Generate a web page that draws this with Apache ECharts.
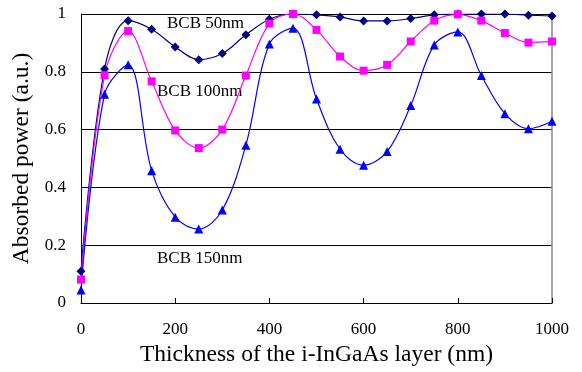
<!DOCTYPE html>
<html>
<head>
<meta charset="utf-8">
<script src="https://cdn.jsdelivr.net/npm/echarts@6/dist/echarts.min.js"></script>
<style>
  html, body { margin: 0; padding: 0; background: #fff; }
  #chart { width: 582px; height: 372px; }
</style>
</head>
<body>
<div id="chart"></div>
<script>
const thickness = [0, 50, 100, 150, 200, 250, 300, 350, 400, 450, 500,
  550, 600, 650, 700, 750, 800, 850, 900, 950, 1000]

const bcb50 = [0.11, 0.81, 0.977, 0.947, 0.886, 0.842, 0.863, 0.928, 0.982, 1.0, 0.997,
  0.99, 0.976, 0.976, 0.984, 0.997, 1.0, 1.0, 1.0, 0.996, 0.993]
const bcb100 = [0.081, 0.788, 0.941, 0.767, 0.597, 0.536, 0.6, 0.787, 0.967, 1.0, 0.945,
  0.853, 0.804, 0.824, 0.905, 0.977, 0.999, 0.977, 0.934, 0.901, 0.905]
const bcb150 = [0.045, 0.722, 0.824, 0.458, 0.297, 0.256, 0.322, 0.546, 0.896, 0.951, 0.706,
  0.532, 0.477, 0.524, 0.683, 0.893, 0.938, 0.787, 0.655, 0.603, 0.629]

const seriesNames = ["BCB 50nm", "BCB 100nm", "BCB 150nm"]

const font = "'Liberation Serif', 'Times New Roman', serif"

function pairs(ys) {
  return thickness.map((x, i) => [x, ys[i]])
}

const chart = echarts.init(document.getElementById("chart"))

const lineSeries = (name, ys, color, symbol, size) => ({
  name,
  type: "line",
  data: pairs(ys),
  smooth: 0.35,
  symbol,
  symbolSize: size,
  lineStyle: { color, width: 1.2 },
  itemStyle: { color },
  z: 3
})

chart.setOption({
  animation: false,
  backgroundColor: "#fff",
  textStyle: { fontFamily: font },
  grid: { left: 81, right: 30, top: 14, bottom: 67.5, containLabel: false },
  xAxis: {
    type: "value",
    min: 0,
    max: 1000,
    interval: 200,
    name: "Thickness of the i-InGaAs layer (nm)",
    nameLocation: "middle",
    nameGap: 40,
    nameTextStyle: { fontFamily: font, fontSize: 23.5, color: "#000" },
    axisLine: { lineStyle: { color: "#000", width: 1 } },
    axisTick: { inside: true, length: 5, lineStyle: { color: "#000" } },
    axisLabel: { fontFamily: font, fontSize: 17, color: "#000", margin: 18, formatter: v => String(v) },
    splitLine: { show: false }
  },
  yAxis: [{
    type: "value",
    min: 0,
    max: 1,
    interval: 0.2,
    name: "Absorbed power (a.u.)",
    nameLocation: "middle",
    nameGap: 47,
    nameTextStyle: { fontFamily: font, fontSize: 23.5, color: "#000" },
    axisLine: { show: true, lineStyle: { color: "#000", width: 1 } },
    axisTick: { show: false },
    axisLabel: {
      fontFamily: font, fontSize: 17, color: "#000", margin: 15,
      formatter: v => (v === 0 || v === 1) ? String(v) : v.toFixed(1)
    },
    splitLine: { show: true, lineStyle: { color: "#000", width: 1 } }
  }, {
    type: "value",
    position: "right",
    min: 0,
    max: 1,
    interval: 0.2,
    axisLine: { show: true, lineStyle: { color: "#888", width: 1.5 } },
    axisTick: { show: false },
    axisLabel: { show: false },
    splitLine: { show: false }
  }],
  series: [
    lineSeries(seriesNames[0], bcb50, "#000080", "diamond", 9),
    lineSeries(seriesNames[1], bcb100, "#ff00ff", "rect", 8),
    lineSeries(seriesNames[2], bcb150, "#0000ff", "triangle", 9)
  ],
  graphic: [
    { type: "text", left: 167, top: 15, style: { text: seriesNames[0], font: "17px " + font, fill: "#000" } },
    { type: "text", left: 157, top: 83, style: { text: seriesNames[1], font: "17px " + font, fill: "#000" } },
    { type: "text", left: 157, top: 250, style: { text: seriesNames[2], font: "17px " + font, fill: "#000" } }
  ]
})
</script>
</body>
</html>
